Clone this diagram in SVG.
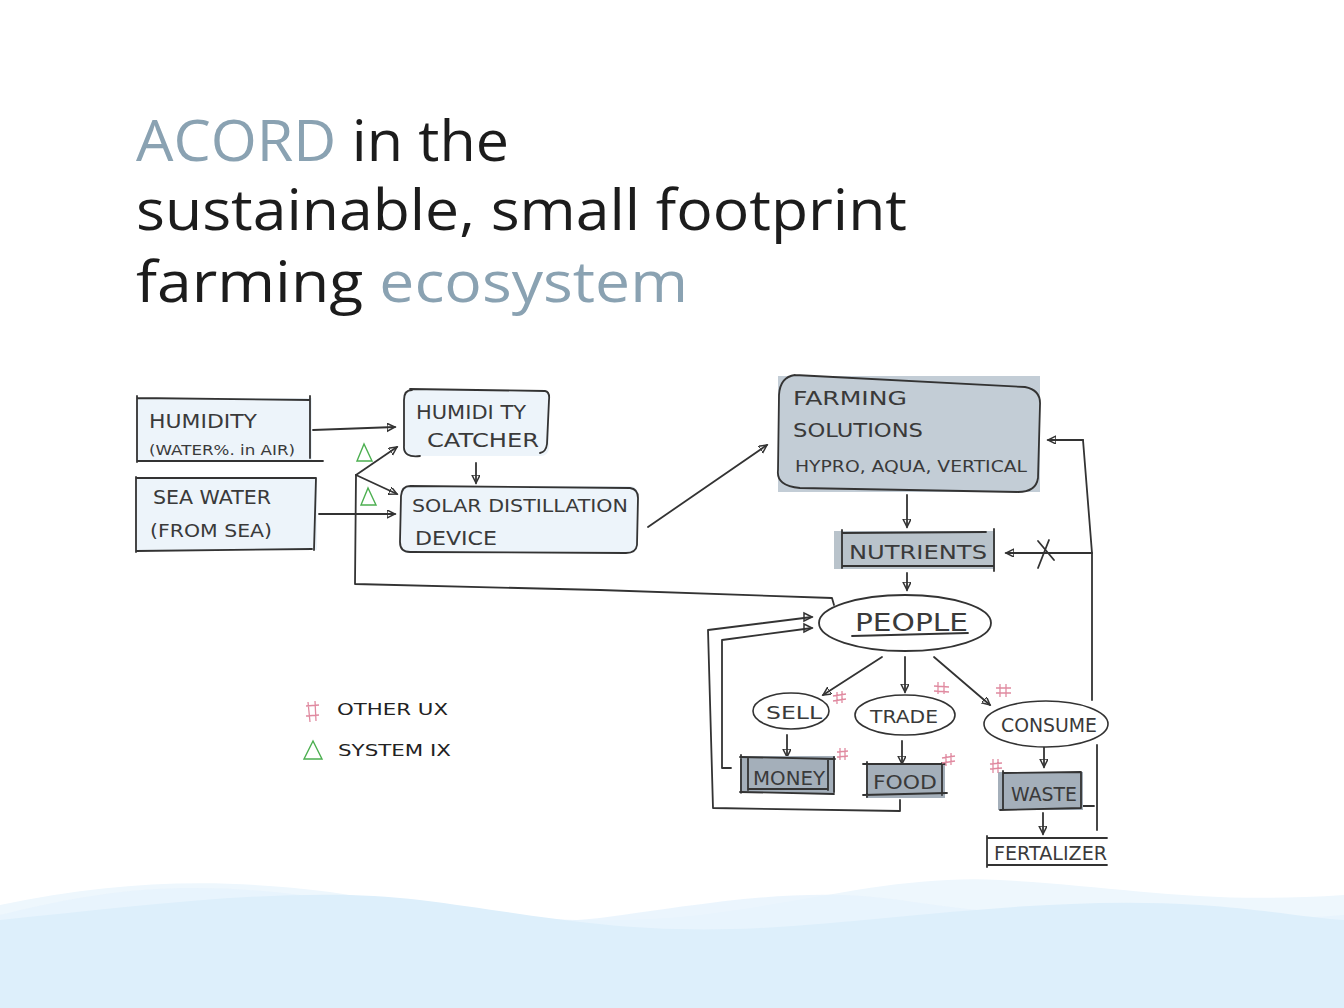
<svg xmlns="http://www.w3.org/2000/svg" width="1344" height="1008" viewBox="0 0 1344 1008">
<defs>
<style>
.title{font-family:"Open Sans","Noto Sans",sans-serif;font-size:56px;fill:#1c1c1c}
.accent{fill:#8aa2b2}
.hand{font-family:"DejaVu Sans","Liberation Sans",sans-serif;fill:#3a3a3a;font-weight:normal}
.ln{fill:none;stroke:#333;stroke-width:1.8;stroke-linecap:round;stroke-linejoin:round}
.arr{fill:none;stroke:#333;stroke-width:1.8;stroke-linecap:round;marker-end:url(#ah)}
.light{fill:#edf4fa}
.mid{fill:#c3cdd6}
.dark{fill:#a3afba}
.pink{fill:none;stroke:#e08aa0;stroke-width:1.3}
.green{fill:none;stroke:#4caf50;stroke-width:1.4}
</style>
<marker id="ah" markerWidth="10" markerHeight="10" refX="8" refY="4" orient="auto" markerUnits="userSpaceOnUse">
<path d="M0,0 L8,4 L0,8 Z" fill="none" stroke="#333" stroke-width="1.5"/>
</marker>
</defs>
<rect width="1344" height="1008" fill="#ffffff"/>
<g id="waves">
<path d="M0,905 C120,880 220,878 330,892 C450,910 560,930 700,915 C820,900 900,875 1000,880 C1120,886 1200,905 1344,895 L1344,1008 L0,1008 Z" fill="#eef7fd"/>
<path d="M0,915 C100,890 180,880 300,895 C400,910 480,930 600,918 C700,905 800,885 900,900 C1000,915 1150,930 1344,915 L1344,1008 L0,1008 Z" fill="#e6f3fc" opacity="0.8"/>
<path d="M0,920 C150,905 300,885 420,900 C540,915 620,935 760,928 C900,920 1050,895 1200,905 C1270,910 1310,918 1344,920 L1344,1008 L0,1008 Z" fill="#ddeffb"/>
</g>
<g id="title">
<text class="title" x="136" y="161" textLength="373" lengthAdjust="spacingAndGlyphs"><tspan class="accent">ACORD</tspan> in the</text>
<text class="title" x="136" y="230" textLength="771" lengthAdjust="spacingAndGlyphs">sustainable, small footprint</text>
<text class="title" x="136" y="302" textLength="552" lengthAdjust="spacingAndGlyphs">farming <tspan class="accent">ecosystem</tspan></text>
</g>
<g id="connectors">
<line class="arr" x1="313" y1="430" x2="395" y2="427"/>
<line class="arr" x1="319" y1="514" x2="395" y2="514"/>
<line class="arr" x1="356" y1="475" x2="397" y2="447"/>
<line class="arr" x1="356" y1="475" x2="397" y2="494"/>
<path class="ln" d="M356,475 L355,584 L600,590 L832,598 L834,605"/>
<line class="arr" x1="476" y1="463" x2="476" y2="483"/>
<line class="arr" x1="648" y1="527" x2="767" y2="445"/>
<line class="arr" x1="907" y1="495" x2="907" y2="527"/>
<line class="arr" x1="907" y1="573" x2="907" y2="590"/>
<path class="ln" d="M1092,700 L1092,553 L1083,440"/>
<line class="arr" x1="1083" y1="440" x2="1048" y2="440"/>
<line class="arr" x1="1092" y1="553" x2="1006" y2="553"/>
<path class="ln" d="M1038,541 L1054,560 M1049,540 L1038,568"/>
<path class="ln" d="M1097,745 L1097,830"/>
<path class="ln" d="M1083,806 L1094,806"/>
<line class="arr" x1="882" y1="657" x2="823" y2="695"/>
<line class="arr" x1="905" y1="657" x2="905" y2="692"/>
<line class="arr" x1="934" y1="657" x2="990" y2="705"/>
<line class="arr" x1="787" y1="735" x2="787" y2="757"/>
<line class="arr" x1="902" y1="741" x2="902" y2="764"/>
<line class="arr" x1="1044" y1="747" x2="1044" y2="767"/>
<line class="arr" x1="1043" y1="813" x2="1043" y2="834"/>
<path class="ln" d="M731,768 L722,768 L722,640 L812,628"/>
<path d="M812,628 L804,624 L804,632 Z" fill="none" stroke="#333" stroke-width="1.5"/>
<path class="ln" d="M900,800 L900,811 L713,808 L708,630 L812,617"/>
<path d="M812,617 L804,613 L804,621 Z" fill="none" stroke="#333" stroke-width="1.5"/>
</g>
<g id="humidity">
<rect class="light" x="136" y="398" width="176" height="63"/>
<path class="ln" d="M137,396 L137,462 M310,396 L310,458 M137,398 L310,400 M137,461 L323,461"/>
<text class="hand" x="149" y="428" font-size="20" textLength="108" lengthAdjust="spacingAndGlyphs">HUMIDITY</text>
<text class="hand" x="149" y="455" font-size="14" textLength="146" lengthAdjust="spacingAndGlyphs">(WATER%. in AIR)</text>
</g>
<g id="seawater">
<rect class="light" x="135" y="478" width="182" height="72"/>
<path class="ln" d="M136,477 L136,552 M316,478 L314,550 M136,478 L316,478 M136,551 L312,549"/>
<text class="hand" x="153" y="504" font-size="19" textLength="118" lengthAdjust="spacingAndGlyphs">SEA WATER</text>
<text class="hand" x="150" y="537" font-size="18" textLength="122" lengthAdjust="spacingAndGlyphs">(FROM  SEA)</text>
</g>
<g id="humiditycatcher">
<rect class="light" x="403" y="390" width="146" height="66" rx="8"/>
<path class="ln" d="M410,389 L545,391 Q550,392 549,400 L547,444 Q546,452 540,453 M420,456 Q403,458 404,446 L404,400 Q404,390 412,390"/>
<text class="hand" x="416" y="419" font-size="20" textLength="110" lengthAdjust="spacingAndGlyphs">HUMIDI TY</text>
<text class="hand" x="427" y="447" font-size="20" textLength="112" lengthAdjust="spacingAndGlyphs">CATCHER</text>
</g>
<g id="solardistillation">
<rect class="light" x="400" y="486" width="238" height="67" rx="8"/>
<path class="ln" d="M410,486 L630,488 Q638,489 638,498 L637,545 Q636,553 626,553 L410,552 Q400,552 400,542 L401,496 Q402,486 410,486"/>
<text class="hand" x="412" y="512" font-size="18" textLength="216" lengthAdjust="spacingAndGlyphs">SOLAR DISTILLATION</text>
<text class="hand" x="415" y="545" font-size="19" textLength="82" lengthAdjust="spacingAndGlyphs">DEVICE</text>
</g>
<g id="farming">
<rect class="mid" x="778" y="376" width="262" height="116"/>
<path class="ln" d="M795,375 L1025,387 Q1041,390 1040,405 L1038,478 Q1036,492 1018,492 L800,488 Q776,486 778,470 L779,395 Q780,377 795,375"/>
<text class="hand" x="793" y="405" font-size="19" textLength="114" lengthAdjust="spacingAndGlyphs">FARMING</text>
<text class="hand" x="793" y="437" font-size="19" textLength="130" lengthAdjust="spacingAndGlyphs">SOLUTIONS</text>
<text class="hand" x="795" y="472" font-size="16" textLength="232" lengthAdjust="spacingAndGlyphs">HYPRO, AQUA, VERTICAL</text>
</g>
<g id="nutrients">
<rect class="dark" x="834" y="531" width="161" height="38" fill="#b9c3cb" style="fill:#b9c3cb"/>
<path class="ln" d="M842,530 L842,568 M994,529 L994,571 M842,533 L986,532 M842,566 L994,566"/>
<text class="hand" x="849" y="559" font-size="20" textLength="138" lengthAdjust="spacingAndGlyphs">NUTRIENTS</text>
</g>
<g id="people">
<ellipse cx="905" cy="623" rx="86" ry="28" fill="#ffffff" stroke="#333" stroke-width="1.8"/>
<text class="hand" x="855" y="631" font-size="24" textLength="113" lengthAdjust="spacingAndGlyphs">PEOPLE</text>
<line class="ln" x1="852" y1="636" x2="968" y2="633"/>
</g>
<g id="sell">
<ellipse cx="791" cy="711" rx="38" ry="18" fill="#ffffff" stroke="#333" stroke-width="1.6"/>
<text class="hand" x="766" y="719" font-size="18" textLength="56" lengthAdjust="spacingAndGlyphs">SELL</text>
</g>
<g id="trade">
<ellipse cx="905" cy="715" rx="50" ry="20" fill="#ffffff" stroke="#333" stroke-width="1.6"/>
<text class="hand" x="870" y="723" font-size="18" textLength="68" lengthAdjust="spacingAndGlyphs">TRADE</text>
</g>
<g id="consume">
<ellipse cx="1046" cy="724" rx="62" ry="23" fill="#ffffff" stroke="#333" stroke-width="1.6"/>
<text class="hand" x="1001" y="732" font-size="19" textLength="96" lengthAdjust="spacingAndGlyphs">CONSUME</text>
</g>
<g id="money">
<rect x="740" y="756" width="95" height="37" fill="#a4afba"/>
<path class="ln" d="M741,755 L741,793 M834,757 L834,792 M748,758 L748,790 M828,759 L828,790 M740,757 L835,759 M740,792 L834,794 M748,789 L828,789"/>
<text class="hand" x="753" y="785" font-size="20" textLength="72" lengthAdjust="spacingAndGlyphs">MONEY</text>
</g>
<g id="food">
<rect x="866" y="763" width="79" height="35" fill="#a4afba"/>
<path class="ln" d="M867,762 L867,797 M942,763 L942,795 M863,764 L945,764 M863,795 L947,793"/>
<text class="hand" x="873" y="789" font-size="20" textLength="64" lengthAdjust="spacingAndGlyphs">FOOD</text>
</g>
<g id="waste">
<rect x="998" y="772" width="85" height="38" fill="#a4afba"/>
<path class="ln" d="M1003,771 L1003,810 M1081,772 L1081,808 M1003,773 L1081,772 M1000,810 L1081,808"/>
<text class="hand" x="1011" y="801" font-size="19" textLength="66" lengthAdjust="spacingAndGlyphs">WASTE</text>
</g>
<g id="fertalizer">
<path class="ln" d="M987,836 L987,867 M987,838 L1107,838 M987,865 L1107,865"/>
<text class="hand" x="994" y="860" font-size="20" textLength="113" lengthAdjust="spacingAndGlyphs">FERTALIZER</text>
</g>
<g id="marks">
<polygon class="green" points="364,444 357,461 372,461"/>
<polygon class="green" points="368,488 361,505 376,505"/>
<path class="pink" d="M833,696 L846,694 M833,701 L846,699 M837,692 L837,704 M842,691 L842,703"/>
<path class="pink" d="M934,686 L949,687 M934,691 L949,692 M938,682 L938,694 M944,682 L944,694"/>
<path class="pink" d="M996,688 L1011,688 M996,693 L1011,693 M1000,684 L1000,697 M1006,684 L1006,697"/>
<path class="pink" d="M837,752 L848,751 M837,757 L848,756 M840,748 L840,760 M845,748 L845,760"/>
<path class="pink" d="M942,758 L955,756 M942,763 L955,761 M946,754 L946,766 M951,753 L951,765"/>
<path class="pink" d="M990,764 L1002,763 M990,769 L1002,768 M993,759 L993,773 M998,759 L998,773"/>
</g>
<g id="legend">
<path class="pink" d="M308,702 L310,722 M315,701 L316,721 M306,706 L319,705 M306,716 L319,715"/>
<text class="hand" x="337" y="715" font-size="15" textLength="111" lengthAdjust="spacingAndGlyphs" style="fill:#222">OTHER UX</text>
<polygon class="green" points="313,741 304,759 322,759"/>
<text class="hand" x="338" y="756" font-size="15" textLength="113" lengthAdjust="spacingAndGlyphs" style="fill:#222">SYSTEM IX</text>
</g>
</svg>
